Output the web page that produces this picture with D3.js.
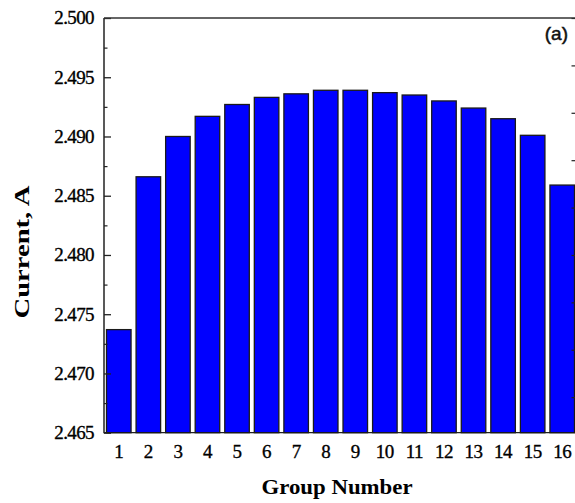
<!DOCTYPE html>
<html>
<head>
<meta charset="utf-8">
<script src="https://cdn.jsdelivr.net/npm/d3@7"></script>
<style>
  body { margin: 0; background: #fff; }
  svg { display: block; }
</style>
</head>
<body>
<svg id="svgcontainer" width="575" height="503"></svg>
<script>
var margin = {"top": 18, "right": -2, "bottom": 70, "left": 104};
var width = 575;
var height = 503;

// data
var groups = ["1", "2", "3", "4", "5", "6", "7", "8", "9", "10", "11", "12", "13", "14", "15", "16"];
var current = [2.4737, 2.4866, 2.4900, 2.4917, 2.4927, 2.4933, 2.4936, 2.4939,
               2.4939, 2.4937, 2.4935, 2.4930, 2.4924, 2.4915, 2.4901, 2.4859];
var yTicks = [2.465, 2.470, 2.475, 2.480, 2.485, 2.490, 2.495, 2.500];
var yMinor = [2.4675, 2.4725, 2.4775, 2.4825, 2.4875, 2.4925, 2.4975];
var rightTicks = [2.468, 2.472, 2.476, 2.480, 2.484, 2.488, 2.492, 2.496, 2.500];
var rightMinor = [2.466, 2.470, 2.474, 2.478, 2.482, 2.486, 2.490, 2.494, 2.498];

// scales
var xScale = d3.scaleBand()
  .domain(groups)
  .range([margin.left, width - margin.right])
  .paddingInner(0.17)
  .paddingOuter(0.085);
var yScale = d3.scaleLinear()
  .domain([2.465, 2.500])
  .range([height - margin.bottom - 0.3, margin.top]);

var svg = d3.select('#svgcontainer');
var serif = '"Liberation Serif", "Times New Roman", serif';
var x0 = margin.left, x1 = width - margin.right;
var yb = yScale(2.465), yt = yScale(2.500);

// bottom line under the bars
svg.append('line')
  .attr('x1', x0).attr('x2', x1)
  .attr('y1', yb).attr('y2', yb)
  .attr('stroke', '#222').attr('stroke-width', 1.2);

// bars
svg.selectAll('rect.bar')
  .data(current)
  .enter().append('rect')
  .attr('class', 'bar')
  .attr('x', function(d, i){ return xScale(groups[i]); })
  .attr('y', function(d){ return yScale(d); })
  .attr('width', xScale.bandwidth())
  .attr('height', function(d){ return yb - yScale(d); })
  .attr('fill', '#0000ff')
  .attr('stroke', '#1a1a1a')
  .attr('stroke-width', 1.3);

// left axis, ticks pointing inward
var yAxis = d3.axisRight(yScale)
  .tickValues(yTicks)
  .tickSize(7)
  .tickFormat('');
var gy = svg.append('g')
  .attr('transform', 'translate(' + [x0, 0] + ')')
  .call(yAxis);
gy.select('.domain').remove();
gy.selectAll('line').attr('stroke', '#222').attr('stroke-width', 1.3);

var yAxisMinor = d3.axisRight(yScale)
  .tickValues(yMinor)
  .tickSize(3.5)
  .tickFormat('');
var gym = svg.append('g')
  .attr('transform', 'translate(' + [x0, 0] + ')')
  .call(yAxisMinor);
gym.select('.domain').remove();
gym.selectAll('line').attr('stroke', '#222').attr('stroke-width', 1.2);

// left tick labels
svg.append('g').selectAll('text')
  .data(yTicks)
  .enter().append('text')
  .attr('x', x0 - 10)
  .attr('y', function(d){ return yScale(d); })
  .attr('dy', '0.34em')
  .attr('text-anchor', 'end')
  .attr('font-family', serif)
  .attr('font-size', '19px')
  .attr('letter-spacing', '-0.6px')
  .attr('fill', '#000')
  .attr('stroke', '#000')
  .attr('stroke-width', 0.35)
  .text(function(d){ return d3.format('.3f')(d); });

// right axis ticks (inward)
var rAxis = d3.axisLeft(yScale)
  .tickValues(rightTicks)
  .tickSize(6.5)
  .tickFormat('');
var gr = svg.append('g')
  .attr('transform', 'translate(' + [x1 + 1, 0] + ')')
  .call(rAxis);
gr.select('.domain').remove();
gr.selectAll('line').attr('stroke', '#222').attr('stroke-width', 1.2);

var rAxisMinor = d3.axisLeft(yScale)
  .tickValues(rightMinor)
  .tickSize(3)
  .tickFormat('');
var grm = svg.append('g')
  .attr('transform', 'translate(' + [x1 + 1, 0] + ')')
  .call(rAxisMinor);
grm.select('.domain').remove();
grm.selectAll('line').attr('stroke', '#999').attr('stroke-width', 1);

// frame: left and top
svg.append('line')
  .attr('x1', x0).attr('x2', x0)
  .attr('y1', yt).attr('y2', yb + 0.6)
  .attr('stroke', '#222').attr('stroke-width', 1.5);
svg.append('line')
  .attr('x1', x0).attr('x2', x1 + 2)
  .attr('y1', yt).attr('y2', yt)
  .attr('stroke', '#333').attr('stroke-width', 1.5);

// x tick labels
var xAxis = d3.axisBottom(xScale).tickSize(0).tickPadding(0);
var gx = svg.append('g')
  .attr('transform', 'translate(' + [0, yb] + ')')
  .call(xAxis);
gx.select('.domain').remove();
gx.selectAll('text')
  .attr('y', 25)
  .attr('dy', 0)
  .attr('font-family', serif)
  .attr('font-size', '19px')
  .attr('letter-spacing', '-0.5px')
  .attr('fill', '#000')
  .attr('stroke', '#000')
  .attr('stroke-width', 0.35);

// axis titles
svg.append('text')
  .attr('x', 337)
  .attr('y', 493.5)
  .attr('text-anchor', 'middle')
  .attr('font-family', serif)
  .attr('font-weight', 'bold')
  .attr('font-size', '20px')
  .attr('textLength', 151)
  .attr('lengthAdjust', 'spacingAndGlyphs')
  .text('Group Number');

svg.append('text')
  .attr('transform', 'translate(' + [28.5, 252] + ') rotate(-90)')
  .attr('text-anchor', 'middle')
  .attr('font-family', serif)
  .attr('font-weight', 'bold')
  .attr('font-size', '22px')
  .attr('textLength', 133)
  .attr('lengthAdjust', 'spacingAndGlyphs')
  .text('Current, A');

// panel label
svg.append('text')
  .attr('x', 568)
  .attr('y', 40)
  .attr('text-anchor', 'end')
  .attr('font-family', '"Liberation Sans", Arial, sans-serif')
  .attr('font-size', '19px')
  .attr('fill', '#111')
  .attr('stroke', '#111')
  .attr('stroke-width', 0.5)
  .text('(a)');
</script>
</body>
</html>
